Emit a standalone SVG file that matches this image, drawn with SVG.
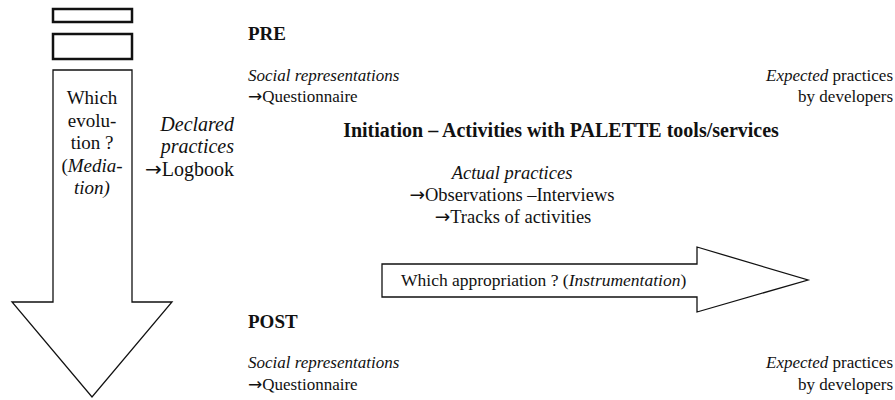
<svg xmlns="http://www.w3.org/2000/svg" width="895" height="400" viewBox="0 0 895 400">
<style>
.box{fill:#fff;stroke:#111;stroke-width:2.5}
.arr{fill:#fff;stroke:#111;stroke-width:1.3}
.i{font-style:italic}
.b{font-weight:bold}
</style>
<rect width="895" height="400" fill="#fff"/>
<g id="rects">
<rect class="box" x="53" y="9" width="79" height="13"/>
<rect class="box" x="53" y="34" width="79" height="25"/>
</g>
<g id="down-arrow" font-family="Liberation Serif" font-size="19" fill="#111" text-anchor="middle">
<polygon class="arr" points="53,70 132,70 132,302 172,302 92,397 12,302 53,302"/>
<text x="92" y="104">Which</text>
<text x="92" y="127">evolu-</text>
<text x="92" y="149">tion ?</text>
<text x="92" y="172">(<tspan class="i">Media-</tspan></text>
<text x="92" y="194" class="i">tion)</text>
</g>
<g id="declared" font-family="Liberation Serif" font-size="20" fill="#111" text-anchor="end">
<text x="234" y="131" class="i">Declared</text>
<text x="234" y="153" class="i">practices</text>
<text x="234" y="176"><tspan font-family="DejaVu Sans">→</tspan>Logbook</text>
</g>
<g id="pre" font-family="Liberation Serif" font-size="17" fill="#111">
<text x="248" y="40" font-size="19" class="b">PRE</text>
<text x="248" y="81" class="i">Social representations</text>
<text x="248" y="102"><tspan font-family="DejaVu Sans">→</tspan>Questionnaire</text>
<text x="893" y="81" text-anchor="end"><tspan class="i">Expected</tspan>  practices</text>
<text x="893" y="102" text-anchor="end">by developers</text>
</g>
<g id="initiation" font-family="Liberation Serif" font-size="18.5" fill="#111" text-anchor="middle">
<text x="561" y="137" font-size="20" class="b">Initiation – Activities with PALETTE tools/services</text>
<text x="512" y="179" class="i">Actual practices</text>
<text x="512" y="201"><tspan font-family="DejaVu Sans">→</tspan>Observations –Interviews</text>
<text x="513" y="223"><tspan font-family="DejaVu Sans">→</tspan>Tracks of activities</text>
</g>
<g id="right-arrow" font-family="Liberation Serif" font-size="17.5" fill="#111">
<polygon class="arr" points="382,264 697,264 697,247 808,280 697,312 697,297 382,297"/>
<text x="401" y="286">Which appropriation ? (<tspan class="i">Instrumentation</tspan>)</text>
</g>
<g id="post" font-family="Liberation Serif" font-size="17" fill="#111">
<text x="248" y="328" font-size="19" class="b">POST</text>
<text x="248" y="368" class="i">Social representations</text>
<text x="248" y="390"><tspan font-family="DejaVu Sans">→</tspan>Questionnaire</text>
<text x="893" y="368" text-anchor="end"><tspan class="i">Expected</tspan>  practices</text>
<text x="893" y="390" text-anchor="end">by developers</text>
</g>
</svg>
